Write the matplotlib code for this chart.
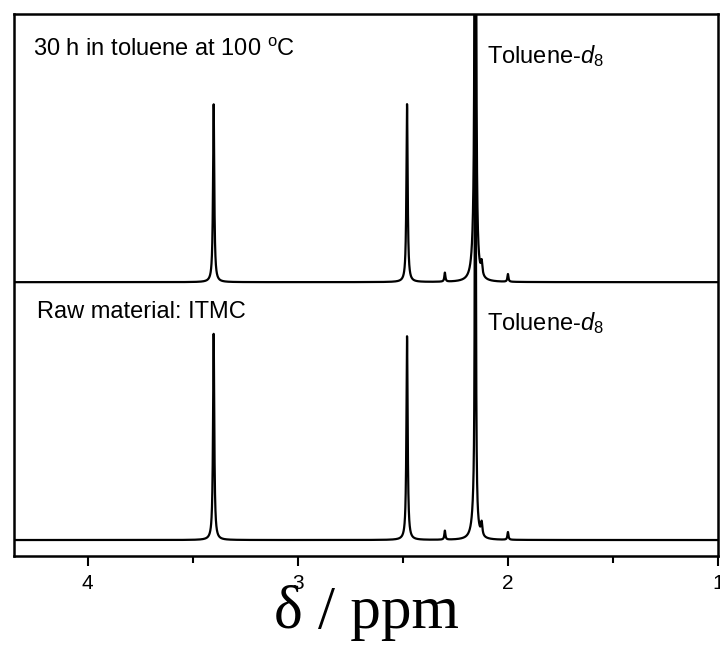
import numpy as np
import matplotlib
matplotlib.use("Agg")
import matplotlib.pyplot as plt
from matplotlib.ticker import MultipleLocator

# peak positions (ppm), heights and half-widths for the two spectra
shifts = [3.40, 2.48, 2.30, 2.155, 2.16, 2.125, 2.00]
widths = [0.0035, 0.0035, 0.003, 0.0018, 0.012, 0.004, 0.003]
heights_heated = [0.69, 0.69, 0.035, 8.0, 0.10, 0.05, 0.03]
heights_raw = [0.80, 0.79, 0.035, 4.0, 0.10, 0.05, 0.03]

offset_heated = 1.0
offset_raw = 0.0

def lorentz_sum(x, centres, heights, hw):
    y = np.zeros_like(x)
    for c, h, w in zip(centres, heights, hw):
        y += h * w**2 / ((x - c)**2 + w**2)
    return y

ppm = np.linspace(4.35, 1.0, 12000)

plt.rcParams['font.family'] = ['Liberation Sans', 'DejaVu Sans']
plt.rcParams['mathtext.fontset'] = 'custom'
plt.rcParams['mathtext.rm'] = 'Liberation Sans'
plt.rcParams['mathtext.it'] = 'Liberation Sans:italic'

fig = plt.figure(figsize=(7.2, 6.57), dpi=100)
ax = fig.add_axes([0.0194, 0.1537, 0.978, 0.825])

ax.plot(ppm, offset_heated + lorentz_sum(ppm, shifts, heights_heated, widths),
        color='black', lw=1.6)
ax.plot(ppm, offset_raw + lorentz_sum(ppm, shifts, heights_raw, widths),
        color='black', lw=1.6)

ax.set_xlim(4.35, 1.0)
ax.set_ylim(-0.062, 2.04)

ax.xaxis.set_major_locator(MultipleLocator(1))
ax.xaxis.set_minor_locator(MultipleLocator(0.5))
ax.tick_params(axis='x', which='major', direction='out', length=7, width=1.5,
               labelsize=15, pad=6, top=False)
ax.tick_params(axis='x', which='minor', direction='out', length=5, width=1.5, top=False)
ax.set_yticks([])
for s in ax.spines.values():
    s.set_linewidth(1.8)

ax.set_xlabel('δ / ppm', fontsize=44, family='Liberation Serif', labelpad=-6)

ax.text(4.26, 1.90, r'30 h in toluene at 100 $^{\mathrm{o}}$C', fontsize=17,
        va='center', ha='left')
ax.text(2.10, 1.875, r'Toluene-$\it{d}_{\rm{8}}$', fontsize=17, va='center', ha='left')
ax.text(4.24, 0.885, 'Raw material: ITMC', fontsize=17, va='center', ha='left')
ax.text(2.10, 0.84, r'Toluene-$\it{d}_{\rm{8}}$', fontsize=17, va='center', ha='left')

fig.savefig('out.png', dpi=100)
